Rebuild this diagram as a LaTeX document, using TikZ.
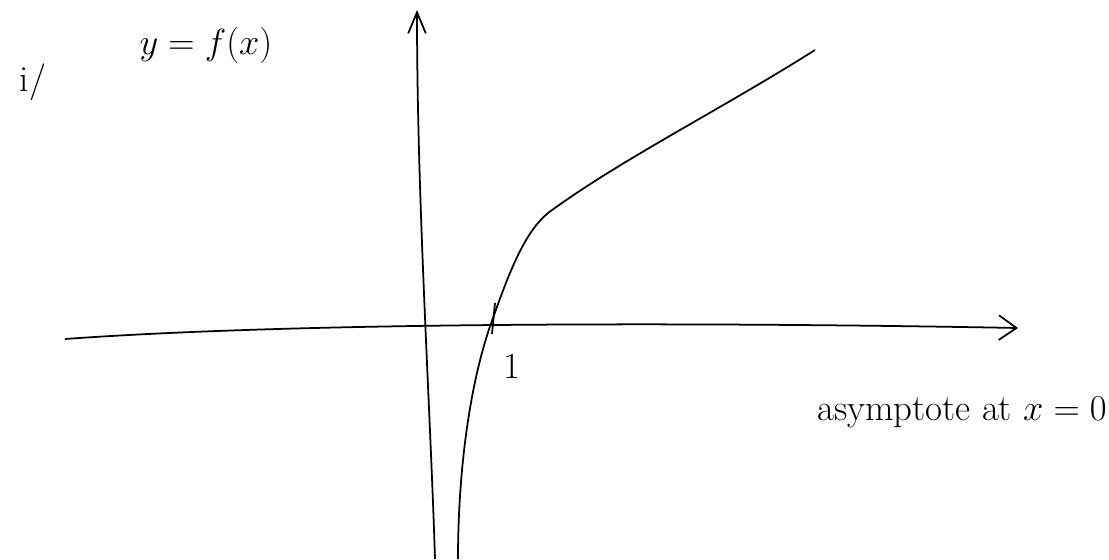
\documentclass[tikz,border=0pt]{standalone}
\usetikzlibrary{arrows.meta}
\begin{document}
\begin{tikzpicture}[x=0.02cm, y=-0.02cm, line width=1pt,
    hand/.style={font=\fontsize{21}{25}\selectfont}]
    \useasboundingbox (0,0) rectangle (1109,559);
    % axes
    \coordinate (xL) at (65,339);
    \coordinate (xR) at (1018,328);
    \coordinate (yB) at (435,559);
    \coordinate (yT) at (417,10);
    \draw[-{Straight Barb[length=10pt,width=14pt]}] (xL) .. controls (300,322) and (700,322) .. (xR);
    \draw[-{Straight Barb[length=12pt,width=10pt]}] (yB) .. controls (430,400) and (417,200) .. (yT);
    % graph of f
    \coordinate (C0) at (458,559);
    \coordinate (C1) at (493,318);
    \coordinate (C2) at (548,213);
    \coordinate (C3) at (815,50);
    \draw (C0) .. controls (458,470) and (470,380) .. (C1)
               .. controls (510,270) and (525,232) .. (C2)
               .. controls (620,160) and (720,110) .. (C3);
    \coordinate (T1) at (495,303);
    \coordinate (T2) at (492,334);
    \draw (T1) -- (T2);
    \node[hand] (one) at (512,366) {1};
    \node[hand] (part) at (33,82) {i/};
    \node[hand] (fx) at (206,45) {$y=f(x)$};
    \node[hand] (asym) at (962,412) {asymptote at $x=0$};
\end{tikzpicture}
\end{document}
